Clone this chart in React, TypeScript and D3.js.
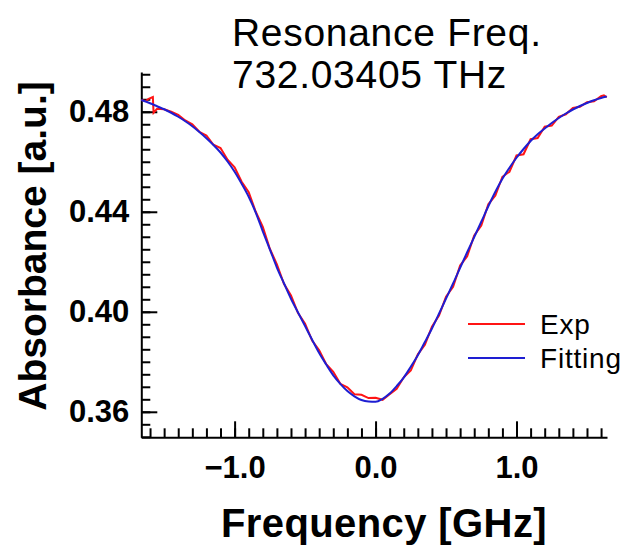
import React, { useRef, useEffect } from 'react';
import * as d3 from 'd3';

// fitting curve (GHz, absorbance)
const fitFreq = [-1.662, -1.6, -1.55, -1.5, -1.45, -1.4, -1.35, -1.3, -1.25, -1.2, -1.15, -1.1, -1.05, -1.0, -0.95, -0.9, -0.85, -0.8, -0.75, -0.7, -0.65, -0.6, -0.55, -0.5, -0.45, -0.4, -0.35, -0.3, -0.25, -0.2, -0.15, -0.1, -0.05, 0.0, 0.05, 0.1, 0.15, 0.2, 0.25, 0.3, 0.35, 0.4, 0.45, 0.5, 0.55, 0.6, 0.65, 0.7, 0.75, 0.8, 0.85, 0.9, 0.95, 1.0, 1.05, 1.1, 1.15, 1.2, 1.25, 1.3, 1.35, 1.4, 1.45, 1.5, 1.55, 1.6, 1.64];
const fitAbs = [0.4847, 0.4834, 0.4822, 0.481, 0.4796, 0.478, 0.4762, 0.4742, 0.4719, 0.4694, 0.4667, 0.4637, 0.4601, 0.456, 0.4512, 0.446, 0.4397, 0.4322, 0.425, 0.4177, 0.4114, 0.4052, 0.3997, 0.3943, 0.3888, 0.3835, 0.3789, 0.3746, 0.3712, 0.3683, 0.3662, 0.3647, 0.3641, 0.364, 0.3652, 0.3673, 0.3703, 0.3737, 0.378, 0.3826, 0.3879, 0.3933, 0.3992, 0.4053, 0.4113, 0.4176, 0.4238, 0.4299, 0.436, 0.4422, 0.448, 0.4532, 0.4576, 0.4616, 0.4651, 0.4683, 0.471, 0.4733, 0.4755, 0.4775, 0.4793, 0.4809, 0.4823, 0.4835, 0.4846, 0.4855, 0.4861];

// experimental data
const expFreq = [-1.662, -1.63, -1.61, -1.58, -1.575, -1.55, -1.5, -1.45, -1.4, -1.35, -1.3, -1.25, -1.2, -1.15, -1.1, -1.05, -1.0, -0.95, -0.9, -0.85, -0.8, -0.75, -0.7, -0.65, -0.6, -0.55, -0.5, -0.45, -0.4, -0.35, -0.3, -0.25, -0.2, -0.15, -0.1, -0.05, 0.0, 0.05, 0.1, 0.15, 0.2, 0.25, 0.3, 0.35, 0.4, 0.45, 0.5, 0.55, 0.6, 0.65, 0.7, 0.75, 0.8, 0.85, 0.9, 0.95, 1.0, 1.05, 1.1, 1.15, 1.2, 1.25, 1.3, 1.35, 1.4, 1.45, 1.5, 1.55, 1.6, 1.62, 1.64];
const expAbs = [0.4847, 0.4843, 0.4852, 0.4859, 0.4796, 0.4812, 0.481, 0.48, 0.4788, 0.4765, 0.475, 0.472, 0.4705, 0.4668, 0.4655, 0.4608, 0.4578, 0.452, 0.4478, 0.44, 0.434, 0.4252, 0.419, 0.4112, 0.4065, 0.3995, 0.3952, 0.3885, 0.3846, 0.379, 0.376, 0.3712, 0.3698, 0.367, 0.3668, 0.3655, 0.3656, 0.3648, 0.367, 0.3692, 0.3738, 0.3765, 0.383, 0.3868, 0.394, 0.3985, 0.406, 0.41, 0.4185, 0.4222, 0.4305, 0.4345, 0.443, 0.4465, 0.454, 0.456, 0.4625, 0.463, 0.469, 0.4695, 0.474, 0.4745, 0.478, 0.479, 0.4815, 0.482, 0.4838, 0.4842, 0.4862, 0.4866, 0.4858];

const xMajorTicks = [-1.0, 0.0, 1.0];
const yMajorTicks = [0.36, 0.40, 0.44, 0.48];
const titleLines = ['Resonance Freq.', '732.03405 THz'];
const legendLabels = ['Exp', 'Fitting'];
const colors = ['#ff1414', '#1e1ed2'];

export default function App() {
  const ref = useRef<SVGSVGElement>(null);

  useEffect(() => {
    const svg = d3.select(ref.current);
    svg.selectAll('*').remove();

    const left = 141.3, right = 607, top = 72, bottom = 437.3;

    const x = d3.scaleLinear().domain([-1.662, 1.642]).range([left, right]);
    const y = d3.scaleLinear().domain([0.3498, 0.4959]).range([bottom, top]);

    const font = '"Liberation Sans", Arial, sans-serif';

    // minor ticks
    const xMinor = d3.range(-16, 17).map(i => i / 10);
    const yMinor = d3.range(70, 100).map(i => i * 0.005);

    const gx = svg.append('g').attr('transform', `translate(0,${bottom})`);
    gx.call(d3.axisBottom(x).tickValues(xMinor).tickSizeInner(-9).tickSizeOuter(0).tickFormat(() => ''));
    gx.append('g').call(
      d3.axisBottom(x).tickValues(xMajorTicks).tickSizeInner(-16).tickSizeOuter(0)
        .tickPadding(19).tickFormat(d3.format('.1f'))
    );
    gx.selectAll('path.domain').filter((d, i) => i > 0).remove();

    const gy = svg.append('g').attr('transform', `translate(${left},0)`);
    gy.call(d3.axisLeft(y).tickValues(yMinor).tickSizeInner(-9).tickSizeOuter(0).tickFormat(() => ''));
    gy.append('g').call(
      d3.axisLeft(y).tickValues(yMajorTicks).tickSizeInner(-16).tickSizeOuter(0)
        .tickPadding(12).tickFormat(d3.format('.2f'))
    );
    gy.selectAll('path.domain').filter((d, i) => i > 0).remove();

    svg.selectAll('.domain, .tick line').attr('stroke', '#000').attr('stroke-width', 2);
    svg.selectAll('.tick text')
      .attr('fill', '#000')
      .style('font-family', font)
      .style('font-size', '31px')
      .style('font-weight', 'bold');

    // curves
    const expData = expFreq.map((f, i) => [f, expAbs[i]] as [number, number]);
    const fitData = fitFreq.map((f, i) => [f, fitAbs[i]] as [number, number]);

    const line = d3.line<[number, number]>().x(d => x(d[0])).y(d => y(d[1]));
    const smooth = d3.line<[number, number]>().x(d => x(d[0])).y(d => y(d[1])).curve(d3.curveMonotoneX);

    svg.append('path').datum(expData).attr('d', line)
      .attr('fill', 'none').attr('stroke', colors[0]).attr('stroke-width', 2);
    svg.append('path').datum(fitData).attr('d', smooth)
      .attr('fill', 'none').attr('stroke', colors[1]).attr('stroke-width', 2);

    // legend
    legendLabels.forEach((lab, i) => {
      const ly = 324 + i * 34;
      svg.append('line').attr('x1', 468).attr('x2', 525).attr('y1', ly).attr('y2', ly)
        .attr('stroke', colors[i]).attr('stroke-width', 2);
      svg.append('text').attr('x', 540).attr('y', ly + 9.5).text(lab)
        .style('font-family', font).style('font-size', '28px').style('letter-spacing', '0.8px');
    });

    // title
    titleLines.forEach((t, i) => {
      svg.append('text').attr('x', 232).attr('y', 46 + i * 42).text(t)
        .style('font-family', font).style('font-size', '39px').style('letter-spacing', '0.7px');
    });

    // axis labels
    svg.append('text').attr('x', 384).attr('y', 537).attr('text-anchor', 'middle')
      .text('Frequency [GHz]')
      .style('font-family', font).style('font-size', '40px').style('font-weight', 'bold')
      .style('letter-spacing', '0.4px');
    svg.append('text').attr('transform', 'translate(46,246) rotate(-90)').attr('text-anchor', 'middle')
      .text('Absorbance [a.u.]')
      .style('font-family', font).style('font-size', '39px').style('font-weight', 'bold');
  }, []);

  return (
    <svg ref={ref} width={633} height={549}
      style={{ position: 'absolute', left: 0, top: 0, background: '#fff' }} />
  );
}
